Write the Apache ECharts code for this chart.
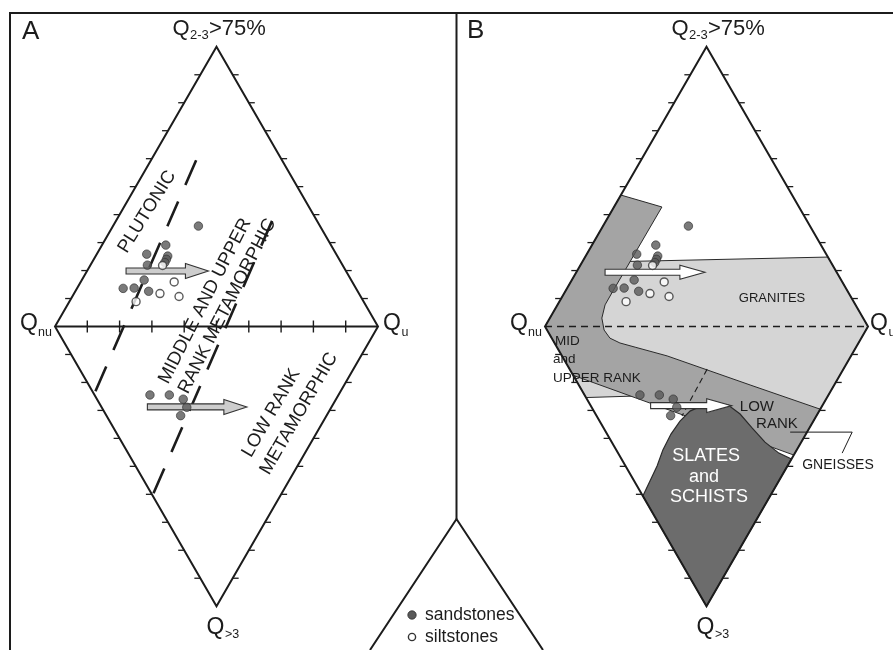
<!DOCTYPE html>
<html>
<head>
<meta charset="utf-8">
<title>Quartz type diamond diagrams</title>
<script src="https://cdn.jsdelivr.net/npm/echarts@6/dist/echarts.min.js"></script>
<style>
  html, body { margin: 0; padding: 0; background: #ffffff; }
  #chart { width: 893px; height: 650px; }
</style>
</head>
<body>
<div id="chart"></div>
<script>
// Diamond frame in plot units: Qnu (0,0), Qu (100,0), Q2-3 apex (50, 86.6), Q>3 apex (50, -86.6)
const APEX = 86.6;
const diamond = [[0, 0], [50, APEX], [100, 0], [50, -APEX]];
const tickSteps = [0.1, 0.2, 0.3, 0.4, 0.5, 0.6, 0.7, 0.8, 0.9];

// Samples, plotted in both diagrams
const sandstones = [
  [44.4, 31.1], [34.3, 25.2], [28.4, 22.4], [34.9, 21.8], [34.5, 20.8], [34.0, 19.8],
  [28.6, 19.0], [27.6, 14.4], [21.1, 11.8], [24.5, 11.9], [29.0, 10.9],
  [29.4, -21.2], [35.4, -21.2], [39.7, -22.5], [40.8, -25.0], [38.9, -27.6]
];
const siltstones = [[33.3, 18.9], [36.9, 13.8], [32.5, 10.2], [38.4, 9.3], [25.1, 7.7]];

// Trend arrows: [start, tip, level]
const trendArrowsA = [[22.0, 47.5, 17.2], [28.6, 59.4, -24.9]];
const trendArrowsB = [[18.6, 49.5, 16.8], [32.7, 57.8, -24.5]];

// Diagram A: dashed field boundaries
const boundaryPlutonic = [[43.7, 51.5], [12.1, -21.0]];
const boundaryLowRank = [[67.2, 32.7], [30.2, -52.3]];

// Diagram B: source rock fields
const granitesField = [
  [19.5, 20.0], [87.6, 21.5], [100, 0], [82.0, -31.2], [48.0, -22.8],
  [28.8, -21.5], [12.7, -22.0], [9.3, -16.1]
];
const gneissField = [
  [23.5, 40.7], [36.2, 37.0], [20.7, 10.4], [18.6, 6.7], [17.6, 2.6], [18.3, -1.1],
  [20.1, -3.6], [23.2, -5.1], [27.9, -6.4], [37.8, -9.1], [63.5, -18.1], [85.2, -25.6],
  [77.0, -39.8], [8.7, -15.1], [0, 0]
];
const slateField = [
  [30.3, -52.5], [32.5, -47.8], [34.7, -43.2], [36.5, -38.2], [39.0, -33.3], [41.8, -29.3],
  [44.9, -26.2], [48.6, -24.5], [52.6, -23.7], [56.7, -24.3], [60.4, -27.1], [64.1, -31.4],
  [68.1, -35.8], [72.4, -39.2], [76.3, -41.0], [50, -86.6]
];
const lowRankDivide = [[50.2, -13.2], [42.4, -27.7]];
const gneissLeader = [[75.9, -32.7], [95.1, -32.7], [92.0, -39.2]];

const INK = '#1c1c1c';
const FONT = '"Liberation Sans", Arial, Helvetica, sans-serif';

function textEl(x, y, text, size, opt) {
  opt = opt || {};
  const align = opt.align || 'center';
  return {
    type: 'text', x: x, y: y, rotation: (opt.rot || 0) * Math.PI / 180,
    style: {
      text: text, fill: opt.color || INK, font: size + 'px ' + FONT,
      align: align, textAlign: align, verticalAlign: 'middle', textVerticalAlign: 'middle'
    }
  };
}

function fieldText(api, pos, text, size, opt) {
  const c = api.coord(pos);
  return textEl(c[0], c[1], text, size, opt);
}

function pathOf(api, pts) {
  return pts.map(function (p) { return api.coord(p); });
}

function diamondFrame(api, out) {
  out.push({
    type: 'polygon', shape: { points: pathOf(api, diamond) },
    style: { fill: 'none', stroke: INK, lineWidth: 2, lineJoin: 'miter' }
  });
  const edges = [[0, 1, -1], [1, 2, 1], [2, 3, 1], [3, 0, -1]];
  edges.forEach(function (e) {
    const a = diamond[e[0]], b = diamond[e[1]];
    tickSteps.forEach(function (t) {
      const c = api.coord([a[0] + (b[0] - a[0]) * t, a[1] + (b[1] - a[1]) * t]);
      out.push({
        type: 'line', shape: { x1: c[0], y1: c[1], x2: c[0] + e[2] * 6, y2: c[1] },
        style: { stroke: INK, lineWidth: 1.3 }
      });
    });
  });
}

function vertexLabels(api, out, o) {
  const left = api.coord(diamond[0]), top = api.coord(diamond[1]);
  const right = api.coord(diamond[2]), bottom = api.coord(diamond[3]);
  const tx = top[0] + o.titleDx, ty = top[1] - 18;
  out.push(textEl(tx, ty, 'Q', 22, { align: 'left' }));
  out.push(textEl(tx + 17.5, ty + 7, '2-3', 13, { align: 'left' }));
  out.push(textEl(tx + 36.5, ty, '>75%', 22, { align: 'left' }));
  out.push(textEl(left[0] - 3, left[1] + 6, 'nu', 12.5, { align: 'right' }));
  out.push(textEl(left[0] - 17, left[1] - 3, 'Q', 23, { align: 'right' }));
  out.push(textEl(right[0] + o.rightDx, right[1] - 3, 'Q', 23, { align: 'left' }));
  out.push(textEl(right[0] + o.rightDx + 18.5, right[1] + 6, 'u', 12.5, { align: 'left' }));
  out.push(textEl(bottom[0] - 10, bottom[1] + 21, 'Q', 23, { align: 'left' }));
  out.push(textEl(bottom[0] + 8.5, bottom[1] + 28, '>3', 12.5, { align: 'left' }));
}

function arrowEl(api, a, fill, d) {
  const p0 = api.coord([a[0], a[2]]), p1 = api.coord([a[1], a[2]]);
  const y = p0[1], x0 = p0[0], xt = p1[0], xb = xt - d.head;
  return {
    type: 'polygon',
    shape: { points: [[x0, y - d.shaft], [xb, y - d.shaft], [xb, y - d.half], [xt, y],
                      [xb, y + d.half], [xb, y + d.shaft], [x0, y + d.shaft]] },
    style: { fill: fill, stroke: '#333333', lineWidth: 1.1, lineJoin: 'miter' }
  };
}

function renderPanelA(params, api) {
  const out = [];
  [boundaryPlutonic, boundaryLowRank].forEach(function (seg) {
    out.push({
      type: 'polyline', shape: { points: pathOf(api, seg) },
      style: { fill: 'none', stroke: INK, lineWidth: 2.6, lineDash: [27, 18] }
    });
  });
  // Qnu-Qu line with scale ticks
  const l = api.coord([0, 0]), r = api.coord([100, 0]);
  out.push({ type: 'line', shape: { x1: l[0], y1: l[1], x2: r[0], y2: r[1] }, style: { stroke: INK, lineWidth: 2 } });
  tickSteps.forEach(function (t) {
    const c = api.coord([t * 100, 0]);
    out.push({ type: 'line', shape: { x1: c[0], y1: c[1] - 6, x2: c[0], y2: c[1] + 6 }, style: { stroke: INK, lineWidth: 1.4 } });
  });
  diamondFrame(api, out);
  vertexLabels(api, out, { titleDx: -44, rightDx: 5 });
  out.push(fieldText(api, [28.5, 35.5], 'PLUTONIC', 18.5, { rot: 58 }));
  out.push(fieldText(api, [46.4, 7.9], 'MIDDLE AND UPPER', 18.5, { rot: 63 }));
  out.push(fieldText(api, [53.3, 6.3], 'RANK METAMORPHIC', 18.5, { rot: 63 }));
  out.push(fieldText(api, [59.3, -40.0], 'LOW RANK', 18.5, { rot: 60, align: 'left' }));
  out.push(fieldText(api, [64.9, -45.4], 'METAMORPHIC', 18.5, { rot: 60, align: 'left' }));
  return { type: 'group', children: out };
}

function renderPanelB(params, api) {
  const out = [];
  out.push({ type: 'polygon', shape: { points: pathOf(api, granitesField) },
             style: { fill: '#d5d5d5', stroke: '#2a2a2a', lineWidth: 1 } });
  out.push({ type: 'polygon', shape: { points: pathOf(api, gneissField) },
             style: { fill: '#a4a4a4', stroke: '#2a2a2a', lineWidth: 1 } });
  out.push({ type: 'polygon', shape: { points: pathOf(api, slateField) },
             style: { fill: '#6c6c6c', stroke: '#2a2a2a', lineWidth: 1.2 } });
  out.push({ type: 'polyline', shape: { points: pathOf(api, [[0, 0], [100, 0]]) },
             style: { fill: 'none', stroke: INK, lineWidth: 1.3, lineDash: [7, 5] } });
  out.push({ type: 'polyline', shape: { points: pathOf(api, lowRankDivide) },
             style: { fill: 'none', stroke: INK, lineWidth: 1.1, lineDash: [6, 4] } });
  out.push({ type: 'polyline', shape: { points: pathOf(api, gneissLeader) },
             style: { fill: 'none', stroke: INK, lineWidth: 1 } });
  diamondFrame(api, out);
  vertexLabels(api, out, { titleDx: -35, rightDx: 2 });
  out.push(fieldText(api, [70.3, 8.8], 'GRANITES', 13));
  out.push(fieldText(api, [3.1, -4.5], 'MID', 13.5, { align: 'left' }));
  out.push(fieldText(api, [2.5, -10.1], 'and', 13.5, { align: 'left' }));
  out.push(fieldText(api, [2.5, -15.9], 'UPPER RANK', 13.5, { align: 'left' }));
  out.push(fieldText(api, [65.6, -24.9], 'LOW', 15));
  out.push(fieldText(api, [71.8, -30.2], 'RANK', 15));
  out.push(fieldText(api, [49.9, -40.1], 'SLATES', 18, { color: '#ffffff' }));
  out.push(fieldText(api, [49.2, -46.6], 'and', 18, { color: '#ffffff' }));
  out.push(fieldText(api, [50.8, -52.8], 'SCHISTS', 18, { color: '#ffffff' }));
  out.push(fieldText(api, [90.7, -42.9], 'GNEISSES', 14));
  return { type: 'group', children: out };
}

function arrowRenderer(list, fill, dims) {
  return function (params, api) {
    return { type: 'group', children: list.map(function (a) { return arrowEl(api, a, fill, dims); }) };
  };
}

const chart = echarts.init(document.getElementById('chart'), null, { renderer: 'canvas' });

const gridBox = { top: 46.8, width: 323, height: 559.4, outerBoundsMode: 'none' };

chart.setOption({
  animation: false,
  backgroundColor: '#ffffff',
  grid: [
    Object.assign({ left: 55 }, gridBox),
    Object.assign({ left: 545 }, gridBox)
  ],
  xAxis: [
    { gridIndex: 0, type: 'value', min: 0, max: 100, show: false },
    { gridIndex: 1, type: 'value', min: 0, max: 100, show: false }
  ],
  yAxis: [
    { gridIndex: 0, type: 'value', min: -APEX, max: APEX, show: false },
    { gridIndex: 1, type: 'value', min: -APEX, max: APEX, show: false }
  ],
  series: [
    { type: 'custom', xAxisIndex: 0, yAxisIndex: 0, data: [[50, 0]], clip: false, silent: true, z: 1, renderItem: renderPanelA },
    { type: 'custom', xAxisIndex: 1, yAxisIndex: 1, data: [[50, 0]], clip: false, silent: true, z: 1, renderItem: renderPanelB },
    { type: 'custom', xAxisIndex: 0, yAxisIndex: 0, data: [[50, 0]], clip: false, silent: true, z: 3,
      renderItem: arrowRenderer(trendArrowsA, '#cdcdcd', { shaft: 3, half: 7.5, head: 23 }) },
    { type: 'custom', xAxisIndex: 1, yAxisIndex: 1, data: [[50, 0]], clip: false, silent: true, z: 3,
      renderItem: arrowRenderer(trendArrowsB, '#ffffff', { shaft: 3, half: 7, head: 25 }) },
    { name: 'sandstones', type: 'scatter', xAxisIndex: 0, yAxisIndex: 0, data: sandstones, symbolSize: 8.5, z: 5, silent: true,
      itemStyle: { color: '#595959', borderColor: '#2e2e2e', borderWidth: 0.8 } },
    { name: 'siltstones', type: 'scatter', xAxisIndex: 0, yAxisIndex: 0, data: siltstones, symbolSize: 8, z: 5, silent: true,
      itemStyle: { color: '#ffffff', borderColor: '#333333', borderWidth: 1.4 } },
    { name: 'sandstones', type: 'scatter', xAxisIndex: 1, yAxisIndex: 1, data: sandstones, symbolSize: 8.5, z: 5, silent: true,
      itemStyle: { color: '#595959', borderColor: '#2e2e2e', borderWidth: 0.8 } },
    { name: 'siltstones', type: 'scatter', xAxisIndex: 1, yAxisIndex: 1, data: siltstones, symbolSize: 8, z: 5, silent: true,
      itemStyle: { color: '#ffffff', borderColor: '#333333', borderWidth: 1.4 } }
  ],
  graphic: [
    { type: 'polyline', silent: true, shape: { points: [[10, 650], [10, 13], [893, 13]] }, style: { fill: 'none', stroke: INK, lineWidth: 2 } },
    { type: 'polyline', silent: true, shape: { points: [[456.5, 13], [456.5, 519]] }, style: { fill: 'none', stroke: INK, lineWidth: 2 } },
    { type: 'polyline', silent: true, shape: { points: [[370, 650], [456.5, 519], [543, 650]] }, style: { fill: 'none', stroke: INK, lineWidth: 2 } },
    { type: 'circle', silent: true, shape: { cx: 412, cy: 615, r: 4.2 }, style: { fill: '#595959', stroke: '#2e2e2e', lineWidth: 0.8 } },
    { type: 'circle', silent: true, shape: { cx: 412, cy: 637, r: 3.6 }, style: { fill: '#ffffff', stroke: '#333333', lineWidth: 1.4 } },
    { type: 'text', silent: true, x: 425, y: 615,
      style: { text: 'sandstones', fill: INK, font: '17.5px ' + FONT, align: 'left', textAlign: 'left', verticalAlign: 'middle', textVerticalAlign: 'middle' } },
    { type: 'text', silent: true, x: 425, y: 637,
      style: { text: 'siltstones', fill: INK, font: '17.5px ' + FONT, align: 'left', textAlign: 'left', verticalAlign: 'middle', textVerticalAlign: 'middle' } },
    { type: 'text', silent: true, x: 22, y: 32,
      style: { text: 'A', fill: INK, font: '26px ' + FONT, align: 'left', textAlign: 'left', verticalAlign: 'middle', textVerticalAlign: 'middle' } },
    { type: 'text', silent: true, x: 467, y: 31,
      style: { text: 'B', fill: INK, font: '26px ' + FONT, align: 'left', textAlign: 'left', verticalAlign: 'middle', textVerticalAlign: 'middle' } }
  ]
});
</script>
</body>
</html>
